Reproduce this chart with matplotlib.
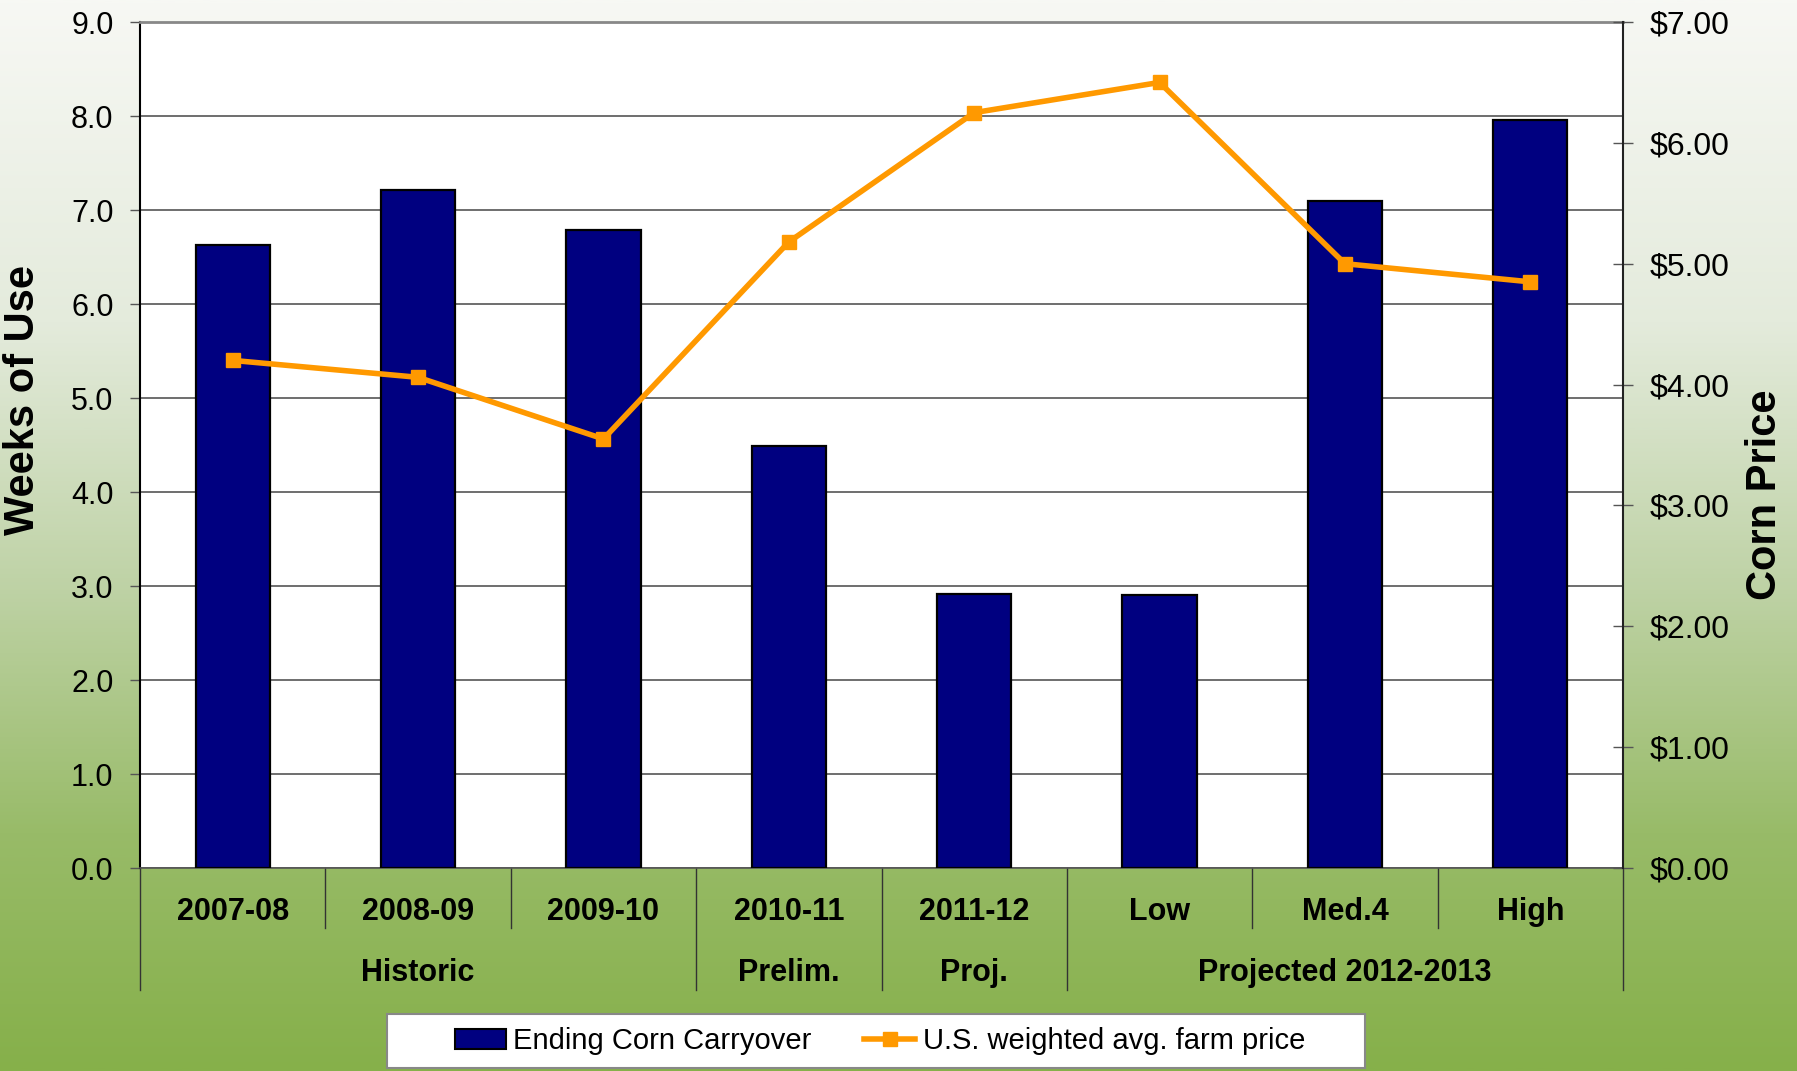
import numpy as np
import matplotlib.pyplot as plt
import matplotlib.transforms as mtransforms
from matplotlib.colors import LinearSegmentedColormap
from matplotlib.patches import Rectangle

plt.rcParams['font.family'] = ['Liberation Sans', 'DejaVu Sans']

categories = ["2007-08", "2008-09", "2009-10", "2010-11", "2011-12", "Low", "Med.4", "High"]
carryover_weeks = [6.63, 7.21, 6.79, 4.49, 2.91, 2.90, 7.10, 7.96]
farm_price = [4.20, 4.06, 3.55, 5.18, 6.25, 6.50, 5.00, 4.85]
# group name, index of first category, index of last category
groups = [("Historic", 0, 2), ("Prelim.", 3, 3), ("Proj.", 4, 4), ("Projected 2012-2013", 5, 7)]
left_ticks = np.arange(0, 9.5, 1.0)
right_ticks = np.arange(0, 8, 1)

W, H = 1797, 1071
fig = plt.figure(figsize=(W / 100, H / 100), dpi=100)

# vertical white-to-green backdrop
bg = fig.add_axes([0, 0, 1, 1], zorder=-10)
bg_cmap = LinearSegmentedColormap.from_list(
    "bg", [(0.0, "#f7f8f4"), (0.3, "#e4ebdc"), (0.55, "#bed2a5"), (0.78, "#98bb68"), (1.0, "#86b04a")])
grad = np.linspace(0, 1, 512).reshape(-1, 1)
bg.imshow(grad, aspect="auto", cmap=bg_cmap, extent=[0, 1, 0, 1], origin="upper")
bg.axis("off")

ax = fig.add_axes([140 / W, 1 - 868 / H, (1623 - 140) / W, (868 - 22) / H])
ax.set_facecolor("white")
x = np.arange(len(categories))
ax.bar(x, carryover_weeks, width=0.4, color="#000080", edgecolor="black", linewidth=1.6, zorder=3)
ax.set_xlim(-0.5, len(categories) - 0.5)
ax.set_ylim(0, 9)
ax.set_yticks(left_ticks)
ax.set_yticklabels([f"{v:.1f}" for v in left_ticks], fontsize=22)
ax.yaxis.grid(True, color="#555555", linewidth=1.2, zorder=0)
ax.set_xticks([])
ax.tick_params(axis="y", direction="out", length=7, width=1, color="#555555", pad=12)
ax.spines["top"].set_color("#888888")
ax.spines["top"].set_linewidth(2)
ax.spines["left"].set_color("black")
ax.spines["left"].set_linewidth(1.5)
ax.spines["bottom"].set_color("#555555")
ax.spines["bottom"].set_linewidth(1.2)
ax.spines["right"].set_visible(False)

ax2 = ax.twinx()
ax2.plot(x, farm_price, color="#ff9900", linewidth=4, marker="s", markersize=10,
         markeredgecolor="#ff9900", zorder=5)
ax2.set_ylim(0, 7)
ax2.set_yticks(right_ticks)
ax2.set_yticklabels([f"${v:.2f}" for v in right_ticks], fontsize=23)
ax2.tick_params(axis="y", direction="inout", length=14, width=1, color="#555555", pad=12)
ax2.spines["right"].set_color("#222222")
ax2.spines["right"].set_linewidth(1.5)
for s in ["top", "left", "bottom"]:
    ax2.spines[s].set_visible(False)

# category labels and separators beneath the axis
trans = mtransforms.blended_transform_factory(ax.transData, fig.transFigure)
y_axis = 1 - 868 / H
y_short = 1 - 928 / H
y_long = 1 - 990 / H
group_edges = [g[1] - 0.5 for g in groups] + [len(categories) - 0.5]
for i in range(len(categories) + 1):
    xe = i - 0.5
    y_end = y_long if xe in group_edges else y_short
    ax.plot([xe, xe], [y_axis, y_end], color="#333333", linewidth=1, transform=trans, clip_on=False)
for i, lab in enumerate(categories):
    ax.text(i, 1 - 912 / H, lab, transform=trans, ha="center", va="center",
            fontsize=22, fontweight="bold")
for name, a, b in groups:
    ax.text((a + b) / 2, 1 - 973 / H, name, transform=trans, ha="center", va="center",
            fontsize=22, fontweight="bold")

fig.text(23 / W, 1 - 400 / H, "Weeks of Use", rotation=90, ha="center", va="center",
         fontsize=30, fontweight="bold")
fig.text(1765 / W, 1 - 495 / H, "Corn Price", rotation=90, ha="center", va="center",
         fontsize=30, fontweight="bold")

# legend box drawn separately so its width can be set freely
fig.patches.append(Rectangle((387 / W, 1 - 1068 / H), (1365 - 387) / W, 54 / H,
                             transform=fig.transFigure, facecolor="white",
                             edgecolor="#888888", linewidth=1.5, zorder=1))
handles = [Rectangle((0, 0), 1, 1, facecolor="#000080", edgecolor="black", linewidth=1.5),
           plt.Line2D([], [], color="#ff9900", linewidth=4, marker="s", markersize=10)]
leg = fig.legend(handles, ["Ending Corn Carryover", "U.S. weighted avg. farm price"],
                 loc="center", bbox_to_anchor=(880 / W, 1 - 1041 / H), ncol=2, fontsize=21,
                 frameon=False, handlelength=1.75, handletextpad=0.25, columnspacing=1.8)
leg.set_zorder(2)

fig.savefig("out.png", dpi=100)
